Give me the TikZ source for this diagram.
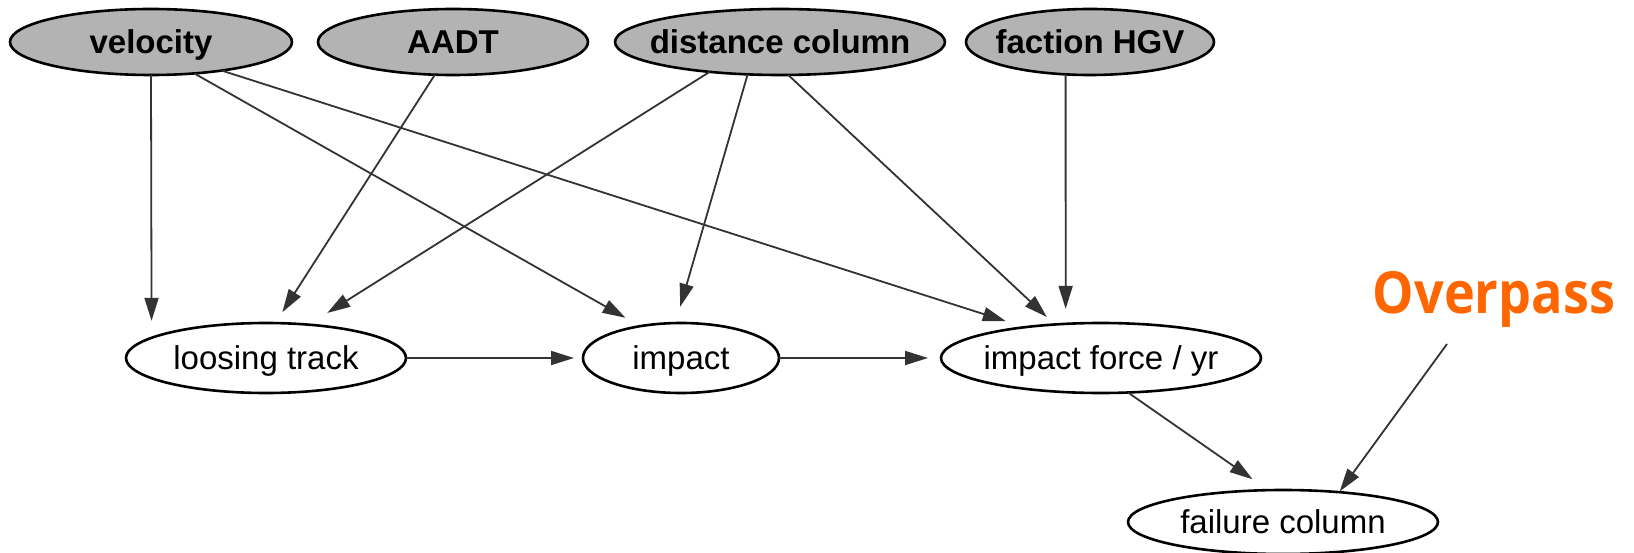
\documentclass[tikz,border=0pt]{standalone}
\usepackage{fontspec}
\setmainfont{Liberation Sans}
\newfontfamily\titlefont[FakeStretch=0.9]{Open Sans}
\usetikzlibrary{arrows.meta,shapes.geometric}
\definecolor{nodegray}{RGB}{179,179,179}
\definecolor{edgegray}{RGB}{51,51,51}
\definecolor{overpassorange}{RGB}{255,102,0}

\begin{document}
\begin{tikzpicture}[x=1pt,y=-1pt,
  var/.style={ellipse, draw=black, line width=2.6pt, inner sep=0pt, outer sep=0pt,
    text height=24pt, text depth=1pt, font=\fontsize{33}{36}\selectfont},
  input/.style={var, fill=nodegray, font=\fontsize{33}{36}\selectfont\bfseries},
  edge/.style={draw=edgegray, line width=1.8pt, -{Triangle[length=23pt,width=14pt]}}
]
\useasboundingbox (0,0) rectangle (1634,553);

% input variables
\node[input, minimum width=282pt, minimum height=66pt] (velocity) at (151,42) {\makebox[0pt]{velocity}};
\node[input, minimum width=270pt, minimum height=66pt] (aadt)     at (453,42) {\makebox[0pt]{AADT}};
\node[input, minimum width=330pt, minimum height=66pt] (distance) at (780,42) {\makebox[0pt]{distance column}};
\node[input, minimum width=248pt, minimum height=66pt] (hgv)      at (1090,42) {\makebox[0pt]{faction HGV}};

% intermediate variables
\node[var, minimum width=280pt, minimum height=70pt] (loosing) at (266,358)  {\makebox[0pt]{loosing track}};
\node[var, minimum width=196pt, minimum height=70pt] (impact)  at (681,358)  {\makebox[0pt]{impact}};
\node[var, minimum width=320pt, minimum height=70pt] (force)   at (1101,358) {\makebox[0pt]{impact force / yr}};
\node[var, minimum width=310pt, minimum height=64pt] (failure) at (1283,522) {\makebox[0pt]{failure column}};

% title
\node[anchor=base, inner sep=0pt, text=overpassorange,
      font=\titlefont\bfseries\fontsize{58}{60}\selectfont] (overpass) at (1494,314) {Overpass};

% dependencies
\draw[edge, shorten >=17pt] (velocity.south) -- (loosing.170);
\draw[edge, shorten >=17pt] (velocity.-36) -- (impact.142.6);
\draw[edge, shorten >=20pt] (velocity.-22) -- (force.158);
\draw[edge, shorten >=13pt] (aadt.-119) -- (loosing.75.7);
\draw[edge, shorten >=22pt] (distance.-157) -- (loosing.38);
\draw[edge, shorten >=17pt] (distance.-135) -- (impact.99);
\draw[edge, shorten >=11pt] (distance.-76) -- (force.144);
\draw[edge, shorten >=15pt] (hgv.-127) -- (force.136.5);
\draw[edge, shorten >=9pt]  (loosing.east) -- (impact.west);
\draw[edge, shorten >=13pt] (impact.east) -- (force.west);
\draw[edge, shorten >=19pt] (force.-52) -- (failure.115);
\draw[edge, shorten >=1pt]  ([xshift=-47pt,yshift=-30pt]overpass.base) -- (failure.28);
\end{tikzpicture}
\end{document}
